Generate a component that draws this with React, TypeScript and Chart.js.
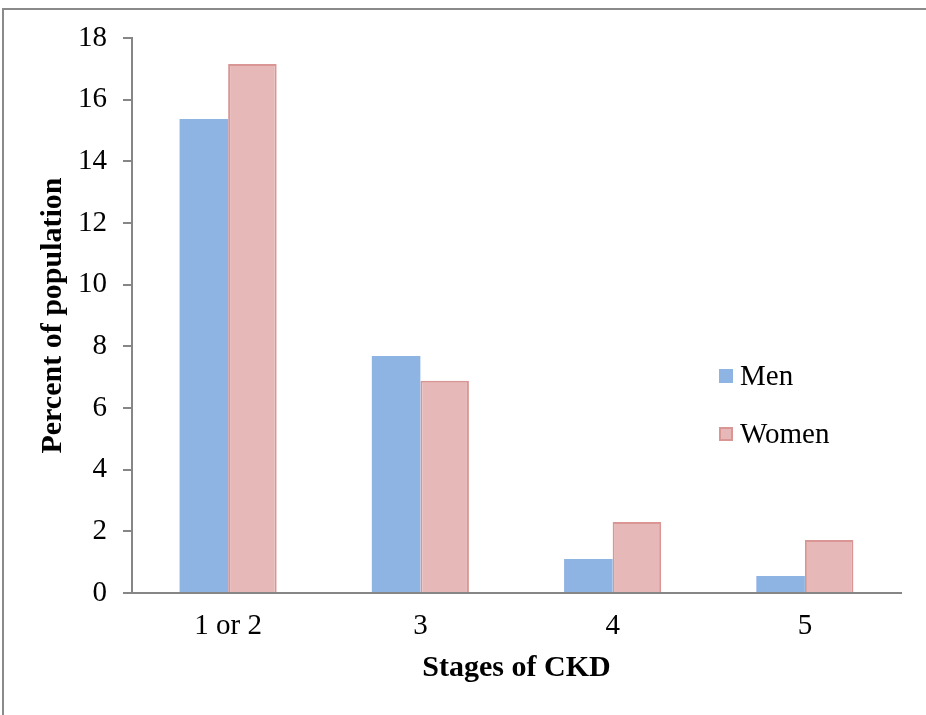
import React, { useEffect, useRef } from "react";
import { Chart, registerables } from "chart.js";

Chart.register(...registerables);

const categories = ["1 or 2", "3", "4", "5"];
const menValues = [15.37, 7.69, 1.1, 0.55];
const womenValues = [17.16, 6.88, 2.3, 1.72];
const seriesNames = ["Men", "Women"];
const yTicks = [0, 2, 4, 6, 8, 10, 12, 14, 16, 18];

const FONT = "'Liberation Serif', 'Times New Roman', serif";
const AXIS = "#868686";

const legendPlugin = {
  id: "insideLegend",
  afterDraw(chart: any) {
    const ctx = chart.ctx;
    const items = chart.data.datasets;
    const x = 719;
    const y0 = 376;
    const gap = 58;
    const box = 14;
    ctx.save();
    ctx.font = `29px ${FONT}`;
    ctx.textBaseline = "middle";
    ctx.textAlign = "left";
    items.forEach((ds: any, i: number) => {
      const cy = y0 + i * gap;
      ctx.fillStyle = ds.backgroundColor;
      ctx.fillRect(x, cy - box / 2, box, box);
      if (ds.borderWidth && ds.borderWidth > 0) {
        ctx.strokeStyle = ds.borderColor;
        ctx.lineWidth = 2;
        ctx.strokeRect(x + 1, cy - box / 2 + 1, box - 2, box - 2);
      }
      ctx.fillStyle = "#000";
      ctx.fillText(ds.label, x + box + 7, cy + 1);
    });
    ctx.restore();
  },
};

export default function App() {
  const ref = useRef<HTMLCanvasElement | null>(null);

  useEffect(() => {
    if (!ref.current) return;
    const chart = new Chart(ref.current, {
      type: "bar",
      data: {
        labels: categories,
        datasets: [
          {
            label: seriesNames[0],
            data: menValues,
            backgroundColor: "#8EB4E3",
            borderWidth: 0,
            barPercentage: 1,
            categoryPercentage: 0.505,
          },
          {
            label: seriesNames[1],
            data: womenValues,
            backgroundColor: "#E6B9B8",
            borderColor: "#D99694",
            borderWidth: 2,
            barPercentage: 1,
            categoryPercentage: 0.505,
          },
        ],
      },
      options: {
        responsive: false,
        animation: false,
        devicePixelRatio: 1,
        layout: { padding: { top: 38, right: 25, left: 0, bottom: 0 } },
        plugins: {
          legend: { display: false },
          tooltip: { enabled: false },
        },
        scales: {
          x: {
            grid: { display: false, drawTicks: false },
            border: { display: true, color: AXIS, width: 2 },
            ticks: {
              color: "#000",
              padding: 16,
              font: { family: FONT, size: 29 },
            },
            title: {
              display: true,
              text: "Stages of CKD",
              color: "#000",
              font: { family: FONT, size: 30, weight: "bold" },
              padding: { top: 0, bottom: 29 },
            },
            afterFit(scale: any) {
              scale.height = 122;
            },
          },
          y: {
            min: 0,
            max: 18,
            afterBuildTicks(scale: any) {
              scale.ticks = yTicks.map((v) => ({ value: v }));
            },
            grid: {
              display: true,
              drawOnChartArea: false,
              drawTicks: true,
              tickLength: 9,
              color: AXIS,
              lineWidth: 2,
            },
            border: { display: true, color: AXIS, width: 2 },
            ticks: {
              color: "#000",
              padding: 16,
              font: { family: FONT, size: 29 },
            },
            title: {
              display: true,
              text: "Percent of population",
              color: "#000",
              font: { family: FONT, size: 30, weight: "bold" },
              padding: { top: 35, bottom: 0 },
            },
            afterFit(scale: any) {
              scale.width = 132;
            },
          },
        },
      },
      plugins: [legendPlugin],
    });
    return () => chart.destroy();
  }, []);

  return (
    <div style={{ position: "absolute", left: 0, top: 0, width: 926, height: 715, overflow: "hidden", background: "#fff" }}>
      <div
        style={{
          position: "absolute",
          left: 2,
          top: 8,
          width: 922,
          height: 705,
          borderTop: "2px solid #8a8a8a",
          borderLeft: "2px solid #8a8a8a",
        }}
      />
      <canvas ref={ref} width={926} height={715} style={{ position: "absolute", left: 0, top: 0 }} />
    </div>
  );
}
